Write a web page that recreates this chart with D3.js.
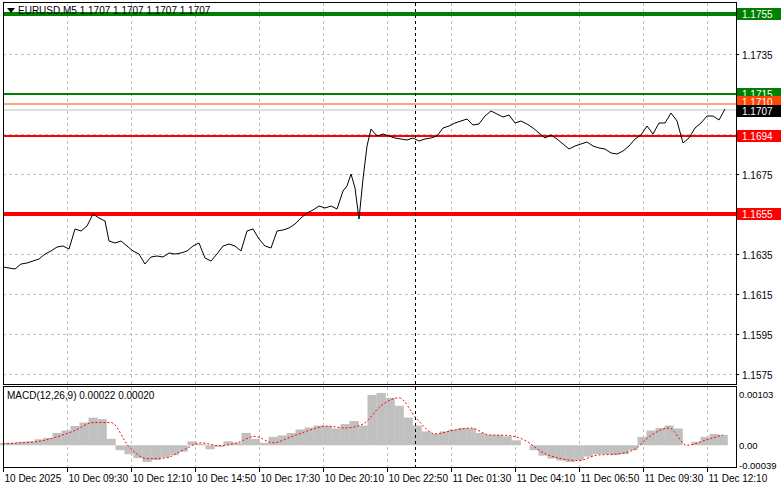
<!DOCTYPE html>
<html>
<head>
<meta charset="utf-8">
<script src="https://cdn.jsdelivr.net/npm/d3@7"></script>
<style>
  body { margin: 0; background: #fff; }
  text { font-family: "Liberation Sans", Arial, sans-serif; font-size: 10px; }
</style>
</head>
<body>
<script>
// close prices sampled along the chart (M5 bars)
var priceBars = d3.range(0, 52, 3)
  .concat(d3.range(53, 168, 3))
  .concat(d3.range(170, 185, 2))
  .concat(d3.range(187, 362, 3));
var closes = [1.16285,1.16280,1.16275,1.16300,1.16305,1.16315,1.16325,1.16350,1.16365,1.16385,1.16390,1.16375,
  1.16475,1.16465,1.16490,1.16550,1.16530,1.16515,1.16415,1.16405,1.16415,1.16390,1.16365,1.16350,1.16300,1.16335,
  1.16340,1.16335,1.16355,1.16350,1.16355,1.16365,1.16390,1.16405,1.16330,1.16315,1.16350,1.16390,1.16400,1.16390,
  1.16365,1.16465,1.16475,1.16425,1.16390,1.16380,1.16465,1.16470,1.16480,1.16500,1.16530,1.16555,1.16570,1.16590,
  1.16580,1.16590,1.16575,
  1.16665,1.16690,1.16750,1.16680,1.16525,1.16725,1.16890,1.16975,
  1.16940,1.16950,1.16940,1.16930,1.16925,1.16920,1.16930,1.16915,1.16925,1.16930,1.16940,1.16980,1.16990,1.17005,
  1.17015,1.17025,1.16995,1.17000,1.17040,1.17065,1.17050,1.17035,1.17045,1.17005,1.17015,1.17000,1.16980,1.16955,
  1.16930,1.16945,1.16925,1.16900,1.16875,1.16890,1.16900,1.16910,1.16890,1.16880,1.16875,1.16855,1.16850,1.16865,
  1.16890,1.16925,1.16945,1.16990,1.16950,1.17005,1.17005,1.17055,1.17015,1.16905,1.16930,1.16980,1.17005,1.17040,
  1.17040,1.17020,1.17075];

// MACD histogram (every 4.5 bars) and signal line (every 9 bars)
var macdHist = [0.00005,0.00005,0.00007,0.00008,0.00012,0.00015,0.00025,0.00030,0.00039,0.00046,0.00056,0.00053,
  0.00013,-0.00010,-0.00018,-0.00026,-0.00034,-0.00030,-0.00025,-0.00020,-0.00013,0.00008,0.00003,-0.00008,-0.00003,
  0.00008,0.00005,0.00025,0.00013,0.00005,0.00017,0.00020,0.00025,0.00032,0.00036,0.00040,0.00039,0.00034,0.00043,
  0.00049,0.00040,0.00102,0.00106,0.00096,0.00080,0.00056,0.00040,0.00028,0.00023,0.00028,0.00032,0.00035,0.00034,
  0.00025,0.00021,0.00021,0.00018,0.00010,0.00000,-0.00010,-0.00021,-0.00027,-0.00031,-0.00034,-0.00030,-0.00023,
  -0.00018,-0.00018,-0.00020,-0.00018,-0.00010,0.00017,0.00030,0.00035,0.00040,0.00034,0.00000,0.00007,0.00017,
  0.00023,0.00021];
var macdSignal = [0.00003,0.00005,0.00008,0.00017,0.00030,0.00046,0.00046,-0.00003,-0.00027,-0.00026,-0.00010,
  0.00005,-0.00001,0.00005,0.00018,0.00005,0.00017,0.00030,0.00039,0.00035,0.00043,0.00080,0.00096,0.00053,0.00023,
  0.00030,0.00035,0.00021,0.00020,0.00010,-0.00015,-0.00027,-0.00031,-0.00020,-0.00018,-0.00010,0.00020,0.00035,
  0.00000,0.00010,0.00021];

var timeLabels = ["10 Dec 2025","10 Dec 09:30","10 Dec 12:10","10 Dec 14:50","10 Dec 17:30","10 Dec 20:10",
  "10 Dec 22:50","11 Dec 01:30","11 Dec 04:10","11 Dec 06:50","11 Dec 09:30","11 Dec 12:10"];
var priceTicks = [1.1755,1.1735,1.1715,1.1695,1.1675,1.1655,1.1635,1.1615,1.1595,1.1575];
var levels = [
  {p: 1.1755, c: "#008000", w: 4, label: "1.1755"},
  {p: 1.1715, c: "#008000", w: 2, label: "1.1715"},
  {p: 1.1710, c: "#ff4500", w: 1, label: "1.1710"},
  {p: 1.1707, c: "#c0c0c0", w: 1, label: null},
  {p: 1.1694, c: "#ff0000", w: 2, label: "1.1694"},
  {p: 1.1655, c: "#ff0000", w: 4, label: "1.1655"}
];
var lastPrice = 1.1707;

var W = 781, H = 489, left = 3, right = 736;
var svg = d3.select("body").append("svg").attr("width", W).attr("height", H);

var x = d3.scaleLinear().domain([0, 366.5]).range([left, right]);
var y = d3.scaleLinear().domain([1.15700, 1.17605]).range([384, 3]);
var ym = d3.scaleLinear().domain([-0.00044, 0.00118]).range([467, 387]);

// grid
var grid = svg.append("g").attr("stroke", "#c0c0c0").attr("stroke-dasharray", "3,3");
timeLabels.forEach(function (t, i) {
  var gx = x(i * 32) + 0.5;
  grid.append("line").attr("x1", gx).attr("x2", gx).attr("y1", 3).attr("y2", 384);
  grid.append("line").attr("x1", gx).attr("x2", gx).attr("y1", 387).attr("y2", 467);
});
priceTicks.forEach(function (p) {
  grid.append("line").attr("x1", left).attr("x2", right).attr("y1", Math.round(y(p)) + 0.5).attr("y2", Math.round(y(p)) + 0.5);
});

// MACD histogram
var step = x(4.5) - x(0);
svg.append("g").selectAll("rect").data(macdHist).enter().append("rect")
  .attr("x", function (d, i) { return x(i * 4.5) - step / 2; })
  .attr("width", step + 0.3)
  .attr("y", function (d) { return Math.min(ym(d), ym(0)); })
  .attr("height", function (d) { return Math.abs(ym(d) - ym(0)); })
  .attr("fill", "#c0c0c0");
svg.append("path").datum(macdSignal)
  .attr("d", d3.line().x(function (d, i) { return x(i * 9); }).y(function (d) { return ym(d); }).curve(d3.curveMonotoneX))
  .attr("fill", "none").attr("stroke", "#ff0000").attr("stroke-dasharray", "2,2");

// levels
levels.forEach(function (l) {
  svg.append("line").attr("x1", left).attr("x2", right).attr("y1", y(l.p)).attr("y2", y(l.p))
    .attr("stroke", l.c).attr("stroke-width", l.w);
});

// price line
svg.append("path").datum(closes)
  .attr("d", d3.line().x(function (d, i) { return x(priceBars[i]); }).y(function (d) { return y(d); }))
  .attr("fill", "none").attr("stroke", "#000").attr("stroke-width", 1);

// crosshair separator
svg.append("line").attr("x1", 415.5).attr("x2", 415.5).attr("y1", 3).attr("y2", 467)
  .attr("stroke", "#000").attr("stroke-dasharray", "3,3");

// frames
svg.append("rect").attr("x", left + 0.5).attr("y", 2.5).attr("width", right - left).attr("height", 382)
  .attr("fill", "none").attr("stroke", "#000");
svg.append("rect").attr("x", left + 0.5).attr("y", 386.5).attr("width", right - left).attr("height", 81)
  .attr("fill", "none").attr("stroke", "#000");

// price axis
var ax = svg.append("g");
priceTicks.forEach(function (p) {
  var yy = Math.round(y(p)) + 0.5;
  ax.append("line").attr("x1", right).attr("x2", right + 3).attr("y1", yy).attr("y2", yy).attr("stroke", "#000");
  ax.append("text").attr("x", right + 6).attr("y", yy + 4).text(p.toFixed(4));
});
levels.forEach(function (l) {
  if (!l.label) return;
  var yy = y(l.p);
  if (l.p === 1.1710) yy -= 2;
  ax.append("rect").attr("x", right + 1).attr("y", yy - 6).attr("width", 44).attr("height", 12).attr("fill", l.c);
  ax.append("text").attr("x", right + 6).attr("y", yy + 4).attr("fill", "#fff").text(l.label);
});
ax.append("rect").attr("x", right + 1).attr("y", y(lastPrice) - 5).attr("width", 44).attr("height", 12).attr("fill", "#000");
ax.append("text").attr("x", right + 6).attr("y", y(lastPrice) + 5).attr("fill", "#fff").text(lastPrice.toFixed(4));

// MACD axis
[[0.00103, "0.00103"], [0, "0.00"], [-0.00039, "-0.00039"]].forEach(function (t) {
  ax.append("text").attr("x", right + 3).attr("y", ym(t[0]) + 4).style("font-size", "9.5px").text(t[1]);
});

// time axis
timeLabels.forEach(function (t, i) {
  var gx = x(i * 32) + 0.5;
  ax.append("line").attr("x1", gx).attr("x2", gx).attr("y1", 468).attr("y2", 472).attr("stroke", "#000");
  ax.append("text").attr("x", gx + 1).attr("y", 482).text(t);
});

// titles
svg.append("path").attr("d", "M7,8 L15,8 L11,13 Z").attr("fill", "#000");
svg.append("text").attr("x", 18).attr("y", 14).text("EURUSD,M5  1.1707 1.1707 1.1707 1.1707");
svg.append("text").attr("x", 7).attr("y", 399).text("MACD(12,26,9) 0.00022 0.00020");
</script>
</body>
</html>
